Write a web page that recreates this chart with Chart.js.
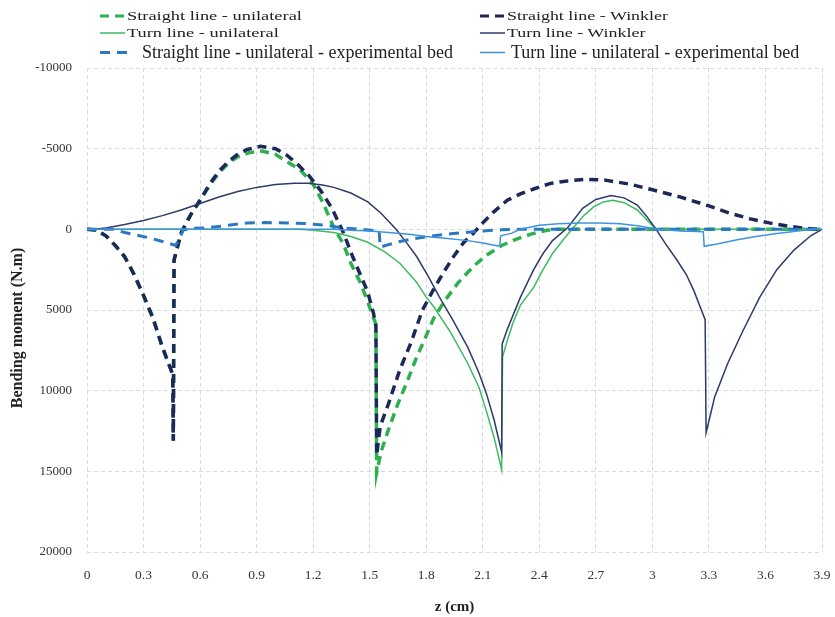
<!DOCTYPE html>
<html lang="en">
<head>
    <meta charset="UTF-8">
    <title>Bending moment along z</title>
    <script src="https://cdn.jsdelivr.net/npm/chart.js"></script>
    <style>
        body {
            margin: 0;
            background: #fff;
        }

        #wrap {
            position: relative;
            width: 835px;
            height: 617px;
        }

        #legend {
            position: absolute;
            left: 0;
            top: 0;
            width: 835px;
            height: 64px;
            font-family: 'Liberation Serif', 'Times New Roman', serif;
            color: #222;
        }

        .item {
            position: absolute;
            display: flex;
            align-items: center;
            white-space: nowrap;
            transform: translateY(-50%);
        }

        .item span {
            display: inline-block;
            transform-origin: left center;
        }
    </style>
</head>
<body>
    <div id="wrap">
        <canvas id="momentChart" width="835" height="617"></canvas>
        <div id="legend"></div>
    </div>

    <script>
        // values: z in cm, bending moment in N.m
        const seriesNames = [
            'Straight line - unilateral',
            'Straight line - Winkler',
            'Turn line - unilateral',
            'Turn line - Winkler',
            'Straight line - unilateral - experimental bed',
            'Turn line - unilateral - experimental bed'
        ];

        const zStraightUni = [0, 0.05, 0.1, 0.15, 0.2, 0.25, 0.3, 0.35, 0.4, 0.455, 0.458, 0.462, 0.5, 0.55, 0.6, 0.65, 0.7, 0.75, 0.8, 0.86, 0.93, 1.0, 1.06, 1.13, 1.2, 1.25, 1.31, 1.36, 1.4, 1.45, 1.49, 1.533, 1.537, 1.56, 1.6, 1.65, 1.7, 1.75, 1.8, 1.84, 1.9, 1.97, 2.05, 2.12, 2.2, 2.28, 2.36, 2.44, 2.5, 3.0, 3.5, 3.9];
        const mStraightUni = [0, 50, 400, 1000, 1700, 2800, 4100, 5500, 7300, 9000, 13100, 1900, 200, -900, -1800, -2700, -3500, -4100, -4500, -4750, -4850, -4650, -4200, -3700, -2800, -1700, -100, 900, 2100, 3300, 4500, 5900, 15100, 13800, 12400, 10800, 9400, 7900, 6600, 5500, 4400, 3300, 2300, 1600, 1000, 600, 280, 60, 0, 0, 0, 0];

        const zStraightWink = [0, 0.05, 0.1, 0.15, 0.2, 0.25, 0.3, 0.35, 0.4, 0.455, 0.458, 0.462, 0.5, 0.55, 0.6, 0.65, 0.7, 0.75, 0.8, 0.85, 0.92, 1.0, 1.06, 1.12, 1.18, 1.24, 1.3, 1.36, 1.41, 1.45, 1.49, 1.52, 1.533, 1.537, 1.556, 1.6, 1.66, 1.72, 1.78, 1.84, 1.89, 1.95, 2.0, 2.05, 2.1, 2.16, 2.23, 2.3, 2.37, 2.46, 2.55, 2.65, 2.75, 2.88, 3.0, 3.15, 3.3, 3.41, 3.52, 3.62, 3.72, 3.8, 3.86, 3.9];
        const mStraightWink = [0, 50, 400, 1000, 1700, 2800, 4100, 5500, 7300, 9000, 13100, 1900, 200, -900, -1800, -2800, -3600, -4200, -4650, -4950, -5150, -5000, -4600, -4000, -3300, -2400, -1300, 200, 1700, 2800, 3900, 5200, 6000, 14000, 12200, 10800, 8700, 7000, 5000, 3700, 2700, 1600, 800, 250, -400, -1100, -1800, -2200, -2500, -2850, -3000, -3100, -3050, -2800, -2450, -2000, -1450, -1000, -650, -400, -200, -80, 0, 0];

        const zTurnUni = [0, 0.5, 1.0, 1.13, 1.2, 1.31, 1.4, 1.49, 1.58, 1.66, 1.75, 1.8, 1.84, 1.93, 2.02, 2.08, 2.12, 2.16, 2.2, 2.205, 2.23, 2.26, 2.3, 2.37, 2.42, 2.47, 2.53, 2.58, 2.64, 2.69, 2.74, 2.79, 2.85, 2.92, 2.97, 3.02, 3.5, 3.9];
        const mTurnUni = [0, 0, 0, 0, 50, 200, 450, 800, 1400, 2100, 3300, 4200, 4800, 6400, 8300, 9800, 11300, 12900, 14900, 7900, 6900, 5800, 4700, 3600, 2500, 1500, 600, -100, -900, -1400, -1700, -1800, -1650, -1200, -600, 0, 0, 0];

        const zTurnWink = [0, 0.05, 0.1, 0.2, 0.3, 0.4, 0.5, 0.6, 0.7, 0.8, 0.9, 1.0, 1.1, 1.17, 1.25, 1.31, 1.4, 1.49, 1.56, 1.64, 1.7, 1.75, 1.81, 1.87, 1.94, 2.02, 2.08, 2.12, 2.16, 2.2, 2.203, 2.23, 2.3, 2.37, 2.42, 2.47, 2.55, 2.63, 2.7, 2.78, 2.85, 2.92, 2.97, 3.02, 3.07, 3.13, 3.18, 3.22, 3.28, 3.285, 3.31, 3.33, 3.4, 3.48, 3.57, 3.66, 3.75, 3.84, 3.9];
        const mTurnWink = [0, -20, -80, -300, -550, -850, -1200, -1600, -2000, -2350, -2600, -2780, -2850, -2850, -2750, -2600, -2250, -1700, -1000, 0, 900, 1700, 2900, 4200, 5600, 7300, 8900, 10200, 11800, 13800, 7100, 6200, 4200, 2500, 1500, 700, -100, -1300, -1850, -2100, -1950, -1500, -800, 0, 900, 1900, 2800, 3800, 5600, 12600, 11400, 10400, 8300, 6300, 4200, 2500, 1300, 400, 0];

        const zStraightBed = [0, 0.14, 0.2, 0.32, 0.4, 0.47, 0.49, 0.51, 0.55, 0.64, 0.75, 0.85, 0.95, 1.06, 1.17, 1.27, 1.35, 1.45, 1.55, 1.556, 1.6, 1.66, 1.75, 1.84, 1.93, 2.02, 2.1, 2.2, 2.3, 3.0, 3.9];
        const mStraightBed = [0, 0, 200, 500, 750, 1000, 600, 50, -50, -100, -250, -400, -420, -400, -350, -250, -100, 0, 100, 1100, 950, 750, 550, 400, 280, 180, 100, 30, 0, 0, 0];

        const zTurnBed = [0, 0.5, 1.0, 1.3, 1.4, 1.5, 1.6, 1.71, 1.8, 1.9, 2.02, 2.1, 2.19, 2.195, 2.25, 2.3, 2.4, 2.5, 2.62, 2.72, 2.83, 2.93, 3.03, 3.15, 3.27, 3.275, 3.35, 3.45, 3.55, 3.65, 3.75, 3.85, 3.9];
        const mTurnBed = [0, 0, 0, 0, 50, 100, 200, 300, 450, 550, 700, 850, 1050, 400, 250, 0, -250, -350, -400, -400, -350, -200, 0, 100, 150, 1050, 900, 650, 450, 280, 130, 0, 0];

        const seriesZ = [zStraightUni, zStraightWink, zTurnUni, zTurnWink, zStraightBed, zTurnBed];
        const seriesM = [mStraightUni, mStraightWink, mTurnUni, mTurnWink, mStraightBed, mTurnBed];

        const colors = ['#2fb04f', '#1b2859', '#3dbb62', '#2d3a6a', '#2a78c2', '#3f94dc'];
        const widths = [3.5, 3.5, 1.5, 1.5, 3, 1.5];
        const dashes = [[9, 6], [9, 6], [], [], [10, 7], []];

        const datasets = seriesNames.map(function (name, i) {
            return {
                label: name,
                data: seriesZ[i].map((z, k) => ({ x: z, y: seriesM[i][k] })),
                borderColor: colors[i],
                backgroundColor: colors[i],
                borderWidth: widths[i],
                borderDash: dashes[i],
                pointRadius: 0,
                tension: 0,
                fill: false,
                // later series sit on top, like the original
                order: seriesNames.length - i
            };
        });

        const serif = "'Liberation Serif', 'Times New Roman', serif";

        new Chart(document.getElementById('momentChart'), {
            type: 'line',
            data: { datasets: datasets },
            options: {
                responsive: false,
                animation: false,
                layout: { padding: { top: 68, right: 13, left: 0, bottom: 0 } },
                plugins: {
                    legend: { display: false },
                    tooltip: { enabled: false }
                },
                scales: {
                    x: {
                        type: 'linear',
                        min: 0,
                        max: 3.9,
                        afterFit: function (scale) {
                            scale.height = 65;
                            scale.paddingLeft = 0;
                            scale.paddingRight = 0;
                        },
                        ticks: {
                            stepSize: 0.3,
                            padding: 15,
                            maxRotation: 0,
                            color: '#333',
                            font: { family: serif, size: 13.5 },
                            callback: v => String(Math.round(v * 10) / 10)
                        },
                        grid: { color: '#dadada', drawTicks: false },
                        border: { display: false, dash: [4, 3] },
                        title: {
                            display: true,
                            text: 'z (cm)',
                            color: '#222',
                            font: { family: serif, size: 15, weight: 'bold' },
                            padding: { top: 0, bottom: 1 }
                        }
                    },
                    y: {
                        min: -10000,
                        max: 20000,
                        reverse: true,
                        afterFit: function (scale) { scale.width = 87; },
                        ticks: {
                            stepSize: 5000,
                            padding: 15,
                            color: '#333',
                            font: { family: serif, size: 13 },
                            callback: v => String(v)
                        },
                        grid: { color: '#dadada', drawTicks: false },
                        border: { display: false, dash: [4, 3] },
                        title: {
                            display: true,
                            // trailing spaces nudge the rotated title a little lower, as in the figure
                            text: 'Bending moment (N.m)         ',
                            color: '#222',
                            font: { family: serif, size: 16, weight: 'bold' },
                            padding: { top: 8, bottom: 0 }
                        }
                    }
                }
            }
        });

        // legend laid out in two columns as in the figure
        const legendSpots = [
            { left: 100, top: 16, size: 13.5, sample: 25, gap: 2, stretch: 1.36 },
            { left: 480, top: 16, size: 13.5, sample: 25, gap: 2, stretch: 1.33 },
            { left: 100, top: 33, size: 13.5, sample: 25, gap: 2, stretch: 1.36 },
            { left: 480, top: 33, size: 13.5, sample: 25, gap: 2, stretch: 1.33 },
            { left: 100, top: 52, size: 18, sample: 30, gap: 12, stretch: 1 },
            { left: 480, top: 52, size: 18, sample: 25, gap: 6, stretch: 1 }
        ];

        const legend = document.getElementById('legend');
        datasets.forEach(function (ds, i) {
            const spot = legendSpots[i];
            const item = document.createElement('div');
            item.className = 'item';
            item.style.left = spot.left + 'px';
            item.style.top = spot.top + 'px';
            const dash = ds.borderDash.length ? ds.borderDash.join(' ') : 'none';
            item.innerHTML =
                '<svg width="' + spot.sample + '" height="8" style="margin-right:' + spot.gap + 'px">' +
                '<line x1="0" y1="4" x2="' + spot.sample + '" y2="4" stroke="' + ds.borderColor +
                '" stroke-width="' + Math.min(ds.borderWidth, 3) + '" stroke-dasharray="' + dash + '"/></svg>' +
                '<span style="font-size:' + spot.size + 'px;transform:scaleX(' + spot.stretch + ')">' + ds.label + '</span>';
            legend.appendChild(item);
        });
    </script>
</body>
</html>
